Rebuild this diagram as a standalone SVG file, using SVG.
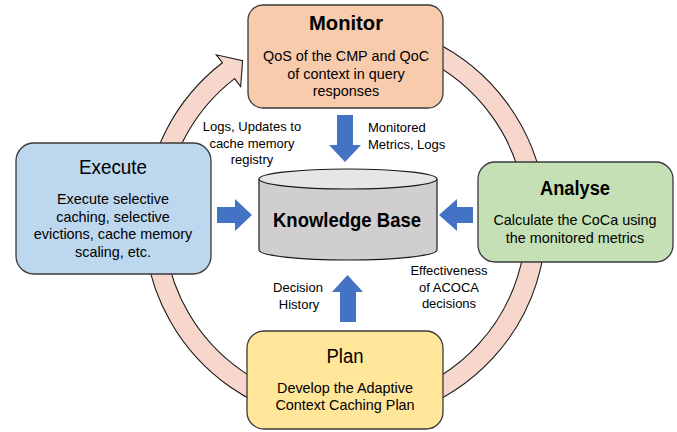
<svg xmlns="http://www.w3.org/2000/svg" width="677" height="432" viewBox="0 0 677 432">
  <style>
    text { font-family: "Liberation Sans", Arial, sans-serif; fill: #000; }
    .box { stroke: #3a3a3a; stroke-width: 1.3; }
    .title { font-size: 19px; text-anchor: middle; }
    .bold { font-weight: bold; }
    .body { font-size: 14.4px; text-anchor: middle; }
    .lbl { font-size: 13px; text-anchor: middle; }
    .lbl-l { font-size: 13px; text-anchor: start; }
    .blue { fill: #4472C4; stroke: none; }
    .ring { fill: #F7D6CC; stroke: #1a1a1a; stroke-width: 1.1; }
  </style>

  <g id="connectors">
    <!-- circular cycle arrow behind the phase boxes -->
    <path class="ring" d="M 345 21 A 201 201 0 1 1 222.37 62.75 L 216.27 54.82 L 242.6 60.7 L 240.67 86.52 L 234.57 78.59 A 181 181 0 1 0 345 41 Z"/>
    <!-- Monitor -> Knowledge Base -->
    <polygon class="blue" points="337,115 353,115 353,145 361,145 345,162 329,145 337,145"/>
    <!-- Execute -> Knowledge Base -->
    <polygon class="blue" points="217,207 235,207 235,199 252,215 235,231 235,223 217,223"/>
    <!-- Analyse -> Knowledge Base -->
    <polygon class="blue" points="473,207 457,207 457,199 439,215 457,231 457,223 473,223"/>
    <!-- Plan -> Knowledge Base -->
    <polygon class="blue" points="340,322 356,322 356,292 363,292 347.5,275 332,292 340,292"/>
  </g>

  <g id="labels">
    <text class="lbl" x="252" y="131">Logs, Updates to</text>
    <text class="lbl" x="252" y="147.5">cache memory</text>
    <text class="lbl" x="252" y="164">registry</text>
    <text class="lbl-l" x="368" y="132">Monitored</text>
    <text class="lbl-l" x="368" y="149">Metrics, Logs</text>
    <text class="lbl" x="449" y="275">Effectiveness</text>
    <text class="lbl" x="449" y="291.5">of ACOCA</text>
    <text class="lbl" x="449" y="308">decisions</text>
    <text class="lbl" x="298" y="292">Decision</text>
    <text class="lbl" x="299" y="309">History</text>
  </g>

  <g id="monitor">
    <rect class="box" x="248" y="5" width="195" height="103" rx="15" fill="#F8CBAD"/>
    <text class="title bold" x="346" y="30" style="font-size:20px" textLength="74" lengthAdjust="spacingAndGlyphs">Monitor</text>
    <text class="body" x="346" y="61">QoS of the CMP and QoC</text>
    <text class="body" x="346" y="78.5">of context in query</text>
    <text class="body" x="346" y="96">responses</text>
  </g>

  <g id="execute">
    <rect class="box" x="16" y="143" width="195" height="131" rx="18" fill="#BDD7EE"/>
    <text class="title" x="113" y="174" style="font-size:20px" textLength="68" lengthAdjust="spacingAndGlyphs">Execute</text>
    <text class="body" x="113" y="204">Execute selective</text>
    <text class="body" x="113" y="221.5">caching, selective</text>
    <text class="body" x="113" y="239">evictions, cache memory</text>
    <text class="body" x="113" y="256.5">scaling, etc.</text>
  </g>

  <g id="analyse">
    <rect class="box" x="478" y="162" width="195" height="100" rx="17" fill="#C5E0B4"/>
    <text class="title bold" x="575" y="195" style="font-size:19.5px" textLength="70" lengthAdjust="spacingAndGlyphs">Analyse</text>
    <text class="body" x="575" y="225">Calculate the CoCa using</text>
    <text class="body" x="575" y="243">the monitored metrics</text>
  </g>

  <g id="plan">
    <rect class="box" x="247" y="331" width="196" height="98" rx="17" fill="#FFE699"/>
    <text class="title" x="345" y="363" style="font-size:20px" textLength="37" lengthAdjust="spacingAndGlyphs">Plan</text>
    <text class="body" x="345" y="393">Develop the Adaptive</text>
    <text class="body" x="345" y="410">Context Caching Plan</text>
  </g>

  <g id="knowledge-base">
    <path d="M 259 179 L 259 250 A 89 10 0 0 0 437 250 L 437 179" fill="#D0CECE" stroke="#1a1a1a" stroke-width="1.2"/>
    <ellipse cx="348" cy="179" rx="89" ry="10" fill="#E7E6E6" stroke="#1a1a1a" stroke-width="1.2"/>
    <text x="347" y="227" style="font-size:21px; font-weight:bold; text-anchor:middle" textLength="148" lengthAdjust="spacingAndGlyphs">Knowledge Base</text>
  </g>
</svg>
